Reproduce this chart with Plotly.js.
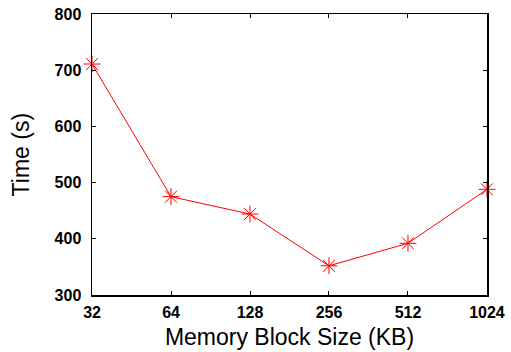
<!DOCTYPE html>
<html><head><meta charset="utf-8">
<script src="https://cdn.plot.ly/plotly-3.0.1.min.js"></script>
<style>html,body{margin:0;padding:0;background:#fff}#c{width:511px;height:352px}</style>
</head><body><div id="c"></div>
<script>
const blockSizes = [32, 64, 128, 256, 512, 1024];
const timeSec = [711, 475, 444, 352, 392, 488];
const xTickLabels = ['32', '64', '128', '256', '512', '1024'];
const yTicks = [300, 400, 500, 600, 700, 800];
const xTitle = 'Memory Block Size (KB)';
const yTitle = 'Time (s)';

const trace = {
  x: blockSizes, y: timeSec, type: 'scatter', mode: 'lines+markers',
  line: {color: '#ff0000', width: 1},
  marker: {symbol: 'asterisk-open', size: 14, color: '#ff0000', line: {color: '#ff0000', width: 1}},
  cliponaxis: false, showlegend: false
};
const fam = 'Liberation Sans, Arial, sans-serif';
const axisCommon = {
  showline: true, linecolor: '#000', linewidth: 1.5, mirror: 'allticks',
  ticks: 'inside', ticklen: 4, tickcolor: '#000', tickwidth: 1,
  showgrid: false, zeroline: false,
  tickfont: {family: fam, size: 16, weight: 'bold', color: '#000'}
};
const layout = {
  width: 511, height: 352,
  margin: {l: 92, r: 24, t: 14, b: 57},
  paper_bgcolor: '#fff', plot_bgcolor: '#fff',
  xaxis: Object.assign({}, axisCommon, {
    type: 'log', range: [Math.log10(32) - 1e-4, Math.log10(1024) + 1e-4],
    tickvals: blockSizes, ticktext: xTickLabels, ticklabelstandoff: 2,
    title: {text: xTitle, standoff: 9,
      font: {family: fam, size: 23, color: '#000'}}
  }),
  yaxis: Object.assign({}, axisCommon, {
    range: [300, 800], tickvals: yTicks, ticklabelstandoff: 6
  }),
  annotations: [{
    text: yTitle, xref: 'paper', yref: 'paper', x: -0.18, y: 0.5,
    xanchor: 'center', yanchor: 'middle', textangle: -90, showarrow: false,
    font: {family: fam, size: 23, color: '#000'}
  }]
};
Plotly.newPlot('c', [trace], layout, {staticPlot: true});
</script></body></html>
